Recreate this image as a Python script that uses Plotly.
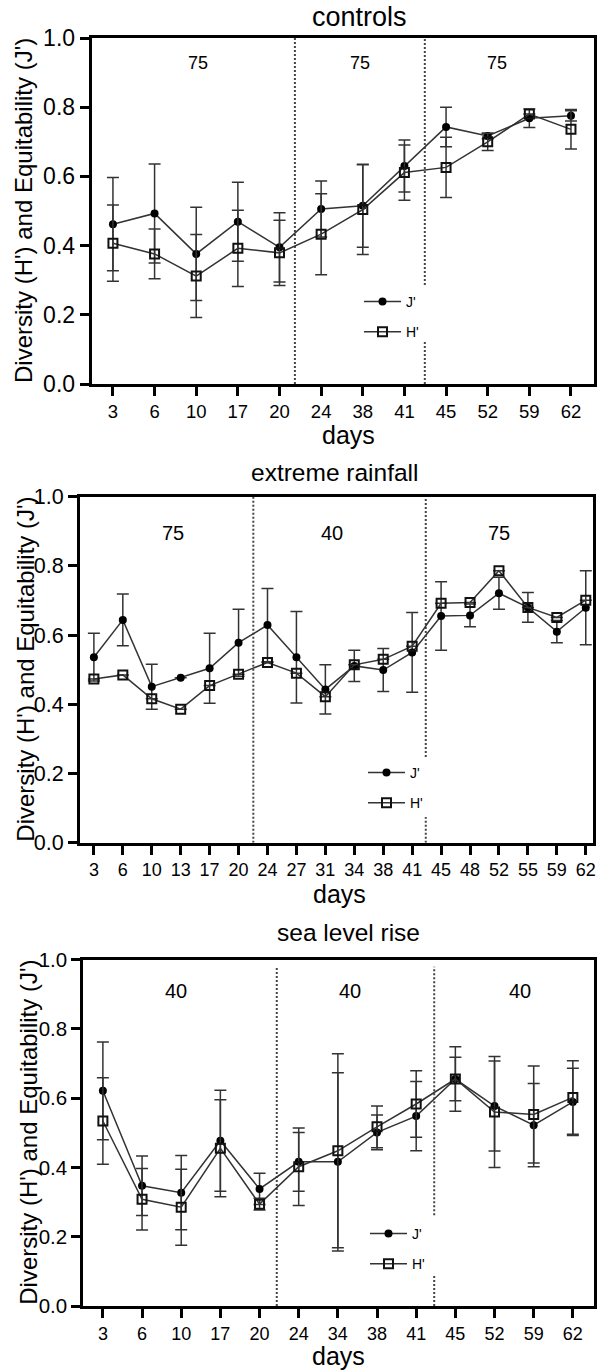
import plotly.graph_objects as go

# ---------------------------------------------------------------- data
ctrl_days = ["3", "6", "10", "17", "20", "24", "38", "41", "45", "52", "59", "62"]
ctrl_J = [0.462, 0.493, 0.376, 0.469, 0.395, 0.506, 0.515, 0.630, 0.743, 0.717, 0.768, 0.775]
ctrl_J_err = [0.135, 0.143, 0.135, 0.114, 0.100, 0.081, 0.120, 0.075, 0.057, 0.008, 0.027, 0.015]
ctrl_H = [0.407, 0.376, 0.312, 0.392, 0.379, 0.433, 0.504, 0.611, 0.626, 0.700, 0.780, 0.736]
ctrl_H_err = [0.110, 0.072, 0.120, 0.110, 0.094, 0.117, 0.130, 0.080, 0.087, 0.025, None, 0.057]
ctrl_periods = ["75", "75", "75"]

rain_days = ["3", "6", "10", "13", "17", "20", "24", "27", "31", "34", "38", "41",
             "45", "48", "52", "55", "59", "62"]
rain_J = [0.536, 0.644, 0.451, 0.477, 0.504, 0.578, 0.629, 0.536, 0.443, 0.511, 0.499, 0.550,
          0.655, 0.657, 0.721, 0.680, 0.610, 0.679]
rain_J_err = [0.069, 0.075, 0.065, None, 0.101, 0.097, 0.106, 0.132, 0.071, 0.045, 0.062, 0.115,
              0.099, 0.033, 0.046, 0.043, 0.032, 0.107]
rain_H = [0.473, 0.485, 0.416, 0.386, 0.454, 0.487, 0.521, 0.490, 0.422, 0.514, 0.530, 0.568,
          0.692, 0.694, 0.786, 0.680, 0.651, 0.701]
rain_H_err = [None] * 18
rain_periods = ["75", "40", "75"]

sea_days = ["3", "6", "10", "17", "20", "24", "34", "38", "41", "45", "52", "59", "62"]
sea_J = [0.621, 0.347, 0.327, 0.477, 0.338, 0.416, 0.416, 0.501, 0.548, 0.655, 0.577, 0.522, 0.589]
sea_J_err = [0.141, 0.086, 0.107, 0.146, 0.045, 0.085, 0.257, 0.050, 0.100, 0.093, 0.130, 0.120, 0.097]
sea_H = [0.534, 0.308, 0.285, 0.455, 0.294, 0.402, 0.448, 0.517, 0.583, 0.655, 0.560, 0.553, 0.602]
sea_H_err = [0.125, 0.089, 0.110, 0.140, 0.017, 0.112, 0.280, 0.060, 0.096, 0.063, 0.160, 0.140, 0.106]
sea_periods = ["40", "40", "40"]

y_ticks = [0.0, 0.2, 0.4, 0.6, 0.8, 1.0]

# ---------------------------------------------------------------- layout helpers
W, H = 597, 1372
FONT = "Liberation Sans, Arial, sans-serif"
INK = "#000000"
LINE = "#333333"


def px_x(p):
    return p / W


def px_y(p):
    return 1 - p / H


panels = [
    dict(name="controls", days=ctrl_days, J=ctrl_J, Je=ctrl_J_err, H=ctrl_H, He=ctrl_H_err,
         periods=ctrl_periods, period_x=[2.05, 5.93, 9.23], period_y=0.927, period_size=18,
         box=(91.7, 594.3, 38, 384), xrange=[-0.51, 11.56],
         ytick_size=23, xtick_size=18.5,
         title_pos=(360, 17), title_size=27, days_pos=(348, 435), ytitle_x=24,
         splits=[4.37, 7.49], split_top=[1.0, 1.0], gap=(0.122, 0.286),
         legend_px=(359, 286)),
    dict(name="extreme rainfall", days=rain_days, J=rain_J, Je=rain_J_err, H=rain_H, He=rain_H_err,
         periods=rain_periods, period_x=[2.74, 8.22, 14.01], period_y=0.894, period_size=20,
         box=(80, 593, 496.7, 842.7), xrange=[-0.48, 17.25],
         ytick_size=21.5, xtick_size=18,
         title_pos=(334, 473), title_size=24.5, days_pos=(340, 893.5), ytitle_x=26,
         splits=[5.51, 11.47], split_top=[1.0, 0.993], gap=(0.074, 0.248),
         legend_px=(363, 757)),
    dict(name="sea level rise", days=sea_days, J=sea_J, Je=sea_J_err, H=sea_H, He=sea_H_err,
         periods=sea_periods, period_x=[1.86, 6.31, 10.64], period_y=0.909, period_size=20,
         box=(83.3, 594, 959.5, 1306), xrange=[-0.5, 12.54],
         ytick_size=20.5, xtick_size=18,
         title_pos=(348, 932.5), title_size=24.5, days_pos=(338, 1355.5), ytitle_x=29,
         splits=[4.44, 8.46], split_top=[0.979, 0.979], gap=(0.089, 0.262),
         legend_px=(365, 1218)),
]

fig = go.Figure()
shapes = []
annotations = []
layout_extra = {}

for i, p in enumerate(panels, start=1):
    sfx = "" if i == 1 else str(i)
    xa, ya = "x" + sfx, "y" + sfx
    leg = "legend" + sfx

    def err(vals):
        return dict(type="data", array=vals, visible=True, thickness=1.5, width=6, color=LINE)

    fig.add_trace(go.Scatter(
        x=p["days"], y=p["J"], name="J'", mode="lines+markers",
        xaxis=xa, yaxis=ya, legend=leg, legendgroup=f"J{i}",
        line=dict(color=LINE, width=1.5),
        marker=dict(symbol="circle", size=8, color="#000000"),
        error_y=err(p["Je"]), cliponaxis=False,
    ))
    fig.add_trace(go.Scatter(
        x=p["days"], y=p["H"], name="H'", mode="lines+markers",
        xaxis=xa, yaxis=ya, legend=leg, legendgroup=f"H{i}",
        line=dict(color=LINE, width=1.5),
        marker=dict(symbol="square-open", size=9, color="#111111", line=dict(width=2)),
        error_y=err(p["He"]), cliponaxis=False,
    ))

    x0, x1, y0, y1 = p["box"]
    common = dict(showline=True, linewidth=3, linecolor=INK, mirror=True,
                  ticks="outside", ticklen=9, tickwidth=3, tickcolor=INK,
                  showgrid=False, zeroline=False, automargin=False)
    layout_extra["xaxis" + sfx] = dict(
        common, type="category", categoryorder="array", categoryarray=p["days"],
        range=p["xrange"], domain=[px_x(x0), px_x(x1)], anchor=ya,
        tickfont=dict(family=FONT, size=p["xtick_size"], color=INK))
    layout_extra["yaxis" + sfx] = dict(
        common, range=[0, 1], tickvals=y_ticks, tickformat=".1f",
        domain=[px_y(y1), px_y(y0)], anchor=xa,
        tickfont=dict(family=FONT, size=p["ytick_size"], color=INK))

    lx, ly = p["legend_px"]
    layout_extra[leg] = dict(
        x=px_x(lx), y=px_y(ly), xanchor="left", yanchor="top",
        bgcolor="rgba(0,0,0,0)", borderwidth=0, tracegroupgap=9, itemwidth=37,
        font=dict(family=FONT, size=14, color=INK))

    # phase separators (dotted), interrupted around the legend on the right one
    dot = dict(color="#444444", width=2, dash="2px,2px")
    shapes.append(dict(type="line", xref=xa, yref=ya, x0=p["splits"][0], x1=p["splits"][0],
                       y0=0, y1=p["split_top"][0], line=dot, layer="below"))
    g0, g1 = p["gap"]
    shapes.append(dict(type="line", xref=xa, yref=ya, x0=p["splits"][1], x1=p["splits"][1],
                       y0=g1, y1=p["split_top"][1], line=dot, layer="below"))
    shapes.append(dict(type="line", xref=xa, yref=ya, x0=p["splits"][1], x1=p["splits"][1],
                       y0=0, y1=g0, line=dot, layer="below"))

    # period labels
    for lab, px_ in zip(p["periods"], p["period_x"]):
        annotations.append(dict(text=lab, x=px_, y=p["period_y"], xref=xa, yref=ya,
                                showarrow=False, font=dict(family=FONT, size=p["period_size"], color=INK)))

    tx, ty = p["title_pos"]
    annotations.append(dict(text=p["name"], x=px_x(tx), y=px_y(ty), xref="paper", yref="paper",
                            xanchor="center", yanchor="middle", showarrow=False,
                            font=dict(family=FONT, size=p["title_size"], color=INK)))
    dx, dy = p["days_pos"]
    annotations.append(dict(text="days", x=px_x(dx), y=px_y(dy), xref="paper", yref="paper",
                            xanchor="center", yanchor="middle", showarrow=False,
                            font=dict(family=FONT, size=25, color=INK)))
    annotations.append(dict(text="Diversity (H') and Equitability (J')",
                            x=px_x(p["ytitle_x"]), y=px_y((y0 + y1) / 2), xref="paper", yref="paper",
                            xanchor="center", yanchor="middle", textangle=-90, showarrow=False,
                            font=dict(family=FONT, size=24, color=INK)))

fig.update_layout(
    width=W, height=H, margin=dict(l=0, r=0, t=0, b=0, pad=0, autoexpand=False),
    paper_bgcolor="white", plot_bgcolor="white",
    showlegend=True, shapes=shapes, annotations=annotations,
    **layout_extra,
)

fig.write_html("out.html")
